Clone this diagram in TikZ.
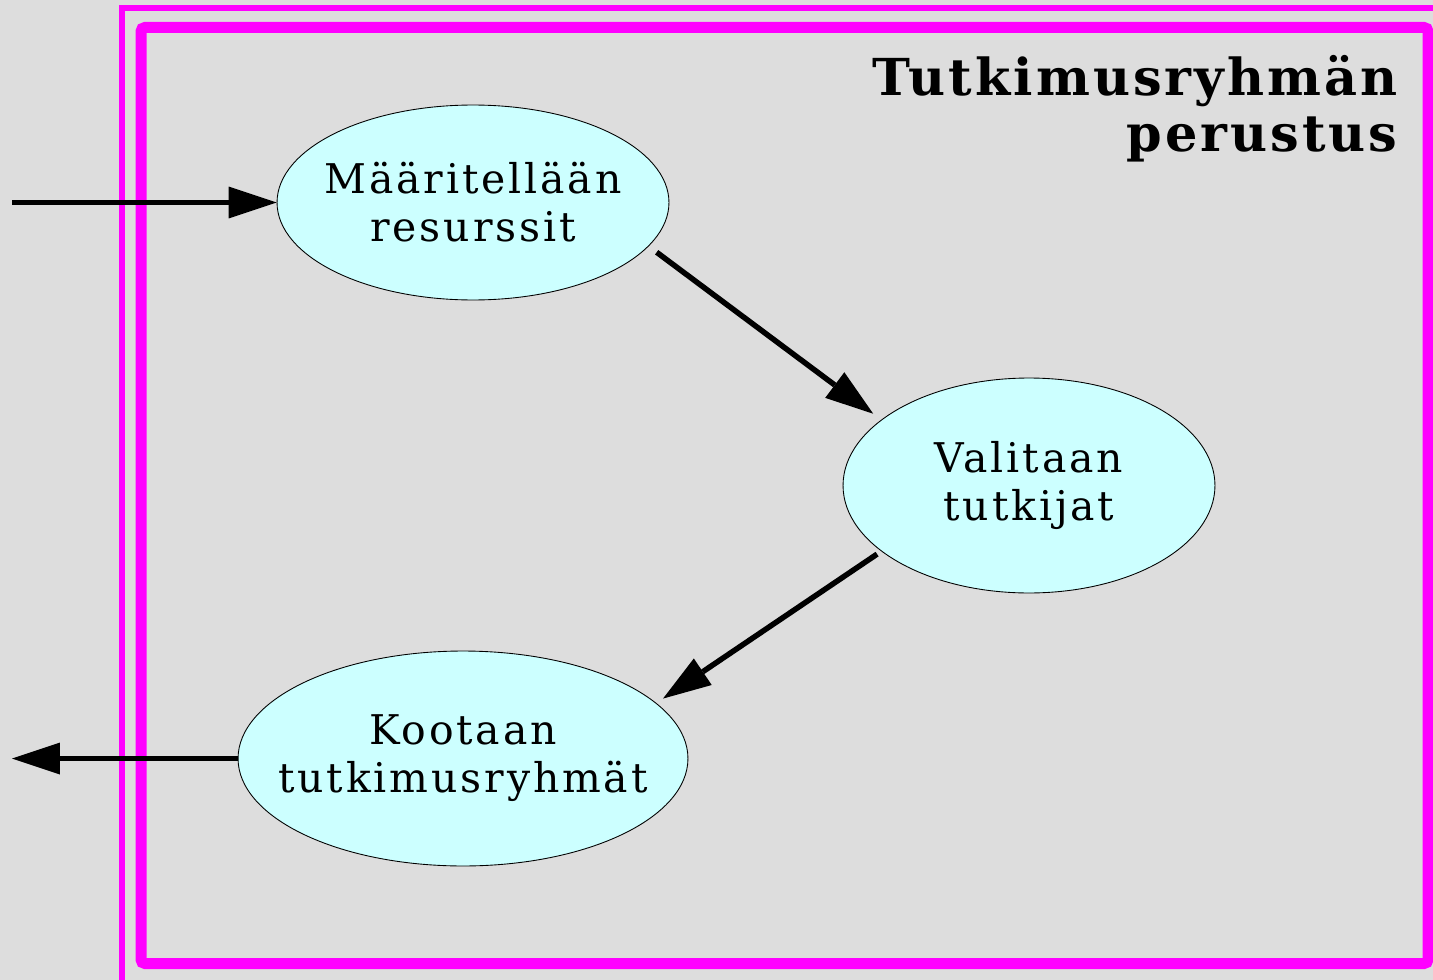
\documentclass[tikz,border=0pt]{standalone}
\usepackage{fontspec}
\setmainfont{DejaVu Serif}
\newfontfamily\spaced{DejaVu Serif}[LetterSpace=7]
\newfontfamily\spacedtitle{DejaVu Serif}[LetterSpace=6]
\usetikzlibrary{shapes.geometric,arrows.meta}
\definecolor{bggrey}{HTML}{DDDDDD}
\definecolor{lightcyan}{HTML}{CCFFFF}
\definecolor{framepink}{HTML}{FF00FF}
\tikzstyle{task} = [draw, fill=lightcyan, ellipse, line width=0.5pt,
    inner xsep=-1cm, inner ysep=0pt, align=center,
    font=\spaced\fontsize{23.3}{27.3}\selectfont]
\tikzstyle{flow} = [line width=0.11cm,
    -{Triangle[length=0.96cm,width=0.64cm,line width=0pt]}]
\tikzstyle{frame} = [draw=framepink]

\begin{document}
\begin{tikzpicture}[x=0.02cm,y=-0.02cm]
\useasboundingbox (0,0) rectangle (1433,980);
\clip (0,0) rectangle (1433,980);
\fill[bggrey] (0,0) rectangle (1433,980);

\draw[frame, line width=0.11cm] (122,8) rectangle (1460,1010);
\draw[frame, line width=0.22cm, rounded corners=0.08cm] (141,27.5) rectangle (1428,963.5);

\coordinate (tulo) at (12,202.5);
\coordinate (lahto) at (12,758.5);

\node[task, name=resurssit, minimum width=7.84cm, minimum height=3.9cm]
  at (473,202.5) {Määritellään\\resurssit};
\node[task, name=tutkijat, minimum width=7.44cm, minimum height=4.3cm]
  at (1029,485.5) {Valitaan\\tutkijat};
\node[task, name=ryhmat, minimum width=9cm, minimum height=4.3cm]
  at (463,758.5) {Kootaan\\tutkimusryhmät};

\node[name=otsikko, anchor=north east, inner sep=0pt, align=right,
  font=\spacedtitle\bfseries\fontsize{29}{31.9}\selectfont]
  at (1398,55) {Tutkimusryhmän\\perustus};

\draw[flow] (tulo) -- (resurssit.west);
\draw[flow, shorten <=0.2cm, shorten >=0.2cm] (resurssit.-14) -- (tutkijat.156);
\draw[flow, shorten <=0.1cm, shorten >=0.16cm] (tutkijat.204) -- (ryhmat.16);
\draw[flow] (ryhmat.west) -- (lahto);
\end{tikzpicture}
\end{document}
